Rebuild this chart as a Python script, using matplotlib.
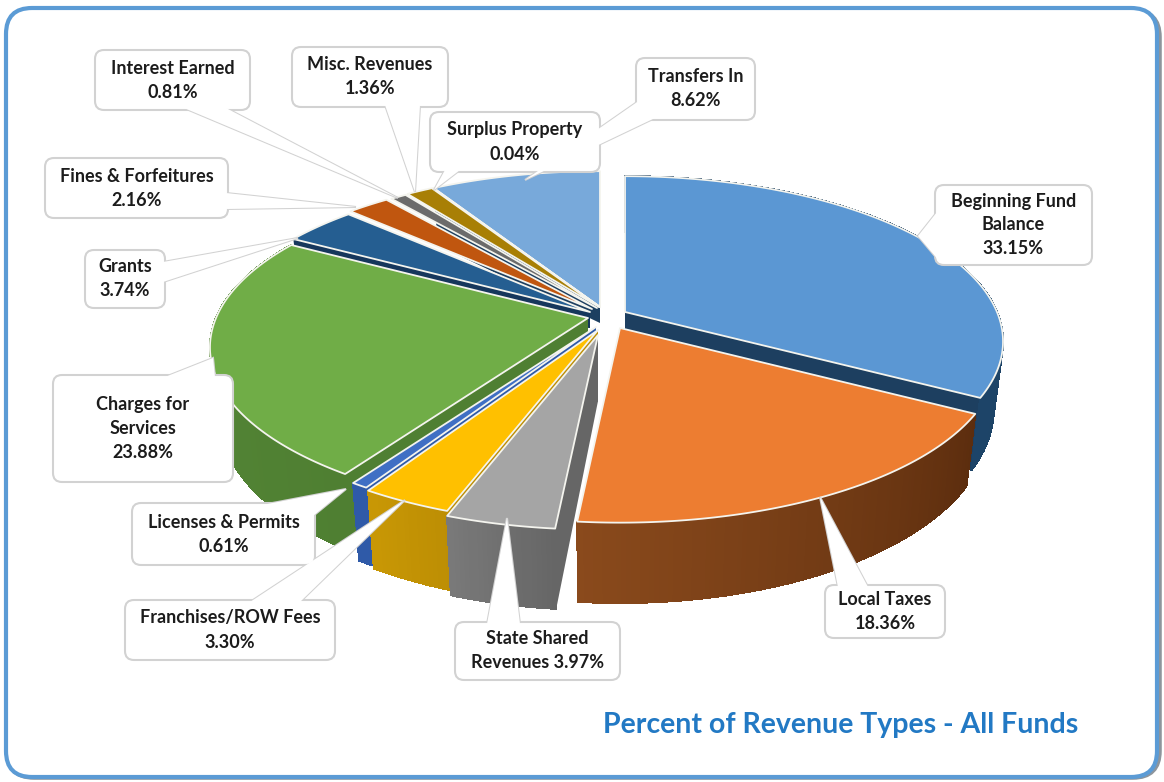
import numpy as np
import matplotlib
matplotlib.use("Agg")
import matplotlib.pyplot as plt
from matplotlib.collections import PolyCollection
from matplotlib.patches import FancyBboxPatch, Polygon

# data, clockwise from 12 o'clock
names = ["Beginning Fund\nBalance", "Local Taxes", "State Shared\nRevenues", "Franchises/ROW Fees",
         "Licenses & Permits", "Charges for\nServices", "Grants", "Fines & Forfeitures",
         "Interest Earned", "Misc. Revenues", "Surplus Property", "Transfers In"]
values = [33.15, 18.36, 3.97, 3.30, 0.61, 23.88, 3.74, 2.16, 0.81, 1.36, 0.04, 8.62]

top_colors = ["#5b97d3", "#ed7d31", "#a5a5a5", "#ffc000", "#3f6fc4", "#70ad47",
              "#255e91", "#c0560f", "#6b6b6b", "#a87f05", "#7f7f7f", "#78a9da"]
wall_light = ["#1d4468", "#8a4a1c", "#7a7a7a", "#c99805", "#2f5aa8", "#568a38",
              "#16375c", "#7a3a0c", "#444444", "#705404", "#555555", "#4a7cae"]
wall_dark = ["#1d3f60", "#5c2d0e", "#666666", "#bd8e04", "#2f5aa8", "#4f7f32",
             "#16375c", "#7a3a0c", "#444444", "#705404", "#555555", "#1d3f60"]

# explode of each slice in pixels
shift_x = [25, 20, -2, -2, -4, -12, -10, -8, -3, -1, 0, 0]
shift_y = [-10, 6, 13, 8, 5, -4, -10, -13, -14, -15, -15, -15]
draw_order = [0, 11, 10, 9, 8, 7, 6, 5, 4, 3, 2, 1]
back_slices = [6, 7, 8, 9, 10, 11]
no_face = [7, 8, 9, 10]

CX, CY = 600, 322
RX, RY = 372, 160
PERSP = 0.178
DEPTH = 66

# box x0, y0, x1, y1, then pointer base a, base b, tip
callouts = [
    ("Interest Earned\n0.81%", (95, 50, 250, 110), (184, 108), (226, 108), (398, 198)),
    ("Misc. Revenues\n1.36%", (292, 47, 448, 107), (385, 105), (420, 105), (415, 192)),
    ("Surplus Property\n0.04%", (430, 112, 600, 172), (445, 170), (460, 170), (434, 190)),
    ("Transfers In\n8.62%", (636, 58, 755, 120), (640, 100), (655, 118), (525, 180)),
    ("Fines & Forfeitures\n2.16%", (45, 158, 228, 218), (226, 193), (226, 209), (356, 207)),
    ("Grants\n3.74%", (85, 250, 165, 308), (163, 262), (163, 282), (298, 238)),
    ("Charges for\nServices\n23.88%", (53, 375, 233, 482), (165, 377), (215, 377), (213, 358)),
    ("Licenses & Permits\n0.61%", (132, 503, 315, 565), (262, 505), (313, 516), (346, 489)),
    ("Franchises/ROW Fees\n3.30%", (125, 600, 335, 660), (250, 602), (300, 602), (405, 500)),
    ("State Shared\nRevenues 3.97%", (455, 622, 620, 680), (487, 624), (520, 624), (507, 518)),
    ("Local Taxes\n18.36%", (825, 585, 945, 638), (838, 587), (868, 587), (820, 497)),
    ("Beginning Fund\nBalance\n33.15%", (935, 185, 1092, 265), (937, 212), (940, 262), (918, 236)),
]

plt.rcParams["font.family"] = ["Lato", "DejaVu Sans"]
fig = plt.figure(figsize=(11.64, 7.82), dpi=100)
ax = fig.add_axes([0, 0, 1, 1])
ax.set_xlim(0, 1164)
ax.set_ylim(782, 0)
ax.axis("off")


def project(theta, i):
    x, y = np.sin(theta), np.cos(theta)
    s = 1 / (1 + PERSP * y)
    return CX + shift_x[i] + RX * x * s, CY + shift_y[i] - RY * y * s, s


def hex_mix(c1, c2, t):
    a = np.array(matplotlib.colors.to_rgb(c1))
    b = np.array(matplotlib.colors.to_rgb(c2))
    return a + (b - a) * t


# frame
ax.add_patch(FancyBboxPatch((8, 11), 1151, 766, boxstyle="round,pad=0,rounding_size=26",
                            fc="none", ec="#8d959c", lw=4, zorder=1))
ax.add_patch(FancyBboxPatch((6, 8), 1151, 769, boxstyle="round,pad=0,rounding_size=26",
                            fc="white", ec="#5b9bd5", lw=3, zorder=1))

edges = np.cumsum([0] + values) / sum(values) * 2 * np.pi

for i in draw_order:
    th = np.linspace(edges[i], edges[i + 1], max(6, int(values[i] * 6)))
    px, py, s = project(th, i)
    ax0, ay0 = CX + shift_x[i], CY + shift_y[i]
    low_x = ax0 + (px - ax0) * 0.975
    low_y = py + DEPTH * s

    # the two cut faces, from the centre to the rim
    drop = 16 if i in back_slices else DEPTH
    if i not in no_face:
        for j in (0, -1):
            face = [(ax0, ay0), (px[j], py[j]), (low_x[j], low_y[j]), (ax0, ay0 + drop)]
            ax.add_patch(Polygon(face, fc=wall_dark[i], ec="none", zorder=2))

    # rim, split in short quads so the shade can run along it
    if i not in back_slices:
        quads, cols = [], []
        for k in range(len(th) - 1):
            quads.append([(px[k], py[k]), (px[k + 1], py[k + 1]),
                          (low_x[k + 1], low_y[k + 1]), (low_x[k], low_y[k])])
            cols.append(hex_mix(wall_dark[i], wall_light[i], k / (len(th) - 1)))
        ax.add_collection(PolyCollection(quads, facecolors=cols, edgecolors=cols, linewidths=0.8,
                                         antialiaseds=False, zorder=2))

    # top of the slice
    top = np.column_stack([np.r_[ax0, px], np.r_[ay0, py]])
    ax.add_patch(Polygon(top, fc=top_colors[i], ec="#f4f4ee", lw=1.3, joinstyle="round", zorder=2))

# callouts
for text, box, a, b, tip in callouts:
    x0, y0, x1, y1 = box
    ax.add_patch(Polygon([a, tip, b], fc="white", ec="#d2d2d2", lw=1.5, zorder=5))
    ax.add_patch(FancyBboxPatch((x0, y0), x1 - x0, y1 - y0, boxstyle="round,pad=0,rounding_size=9",
                                fc="white", ec="#d2d2d2", lw=1.5, zorder=6))
    ax.add_patch(Polygon([a, tip, b], fc="white", ec="none", zorder=7))
    ax.text((x0 + x1) / 2, (y0 + y1) / 2, text, ha="center", va="center", fontsize=13,
            fontweight="bold", color="#1c1c1c", linespacing=1.5, zorder=8)

ax.text(841, 725, "Percent of Revenue Types - All Funds", ha="center", va="center",
        fontsize=20.5, fontweight="bold", color="#2279c4", zorder=8)

fig.savefig("out.png", dpi=100)
